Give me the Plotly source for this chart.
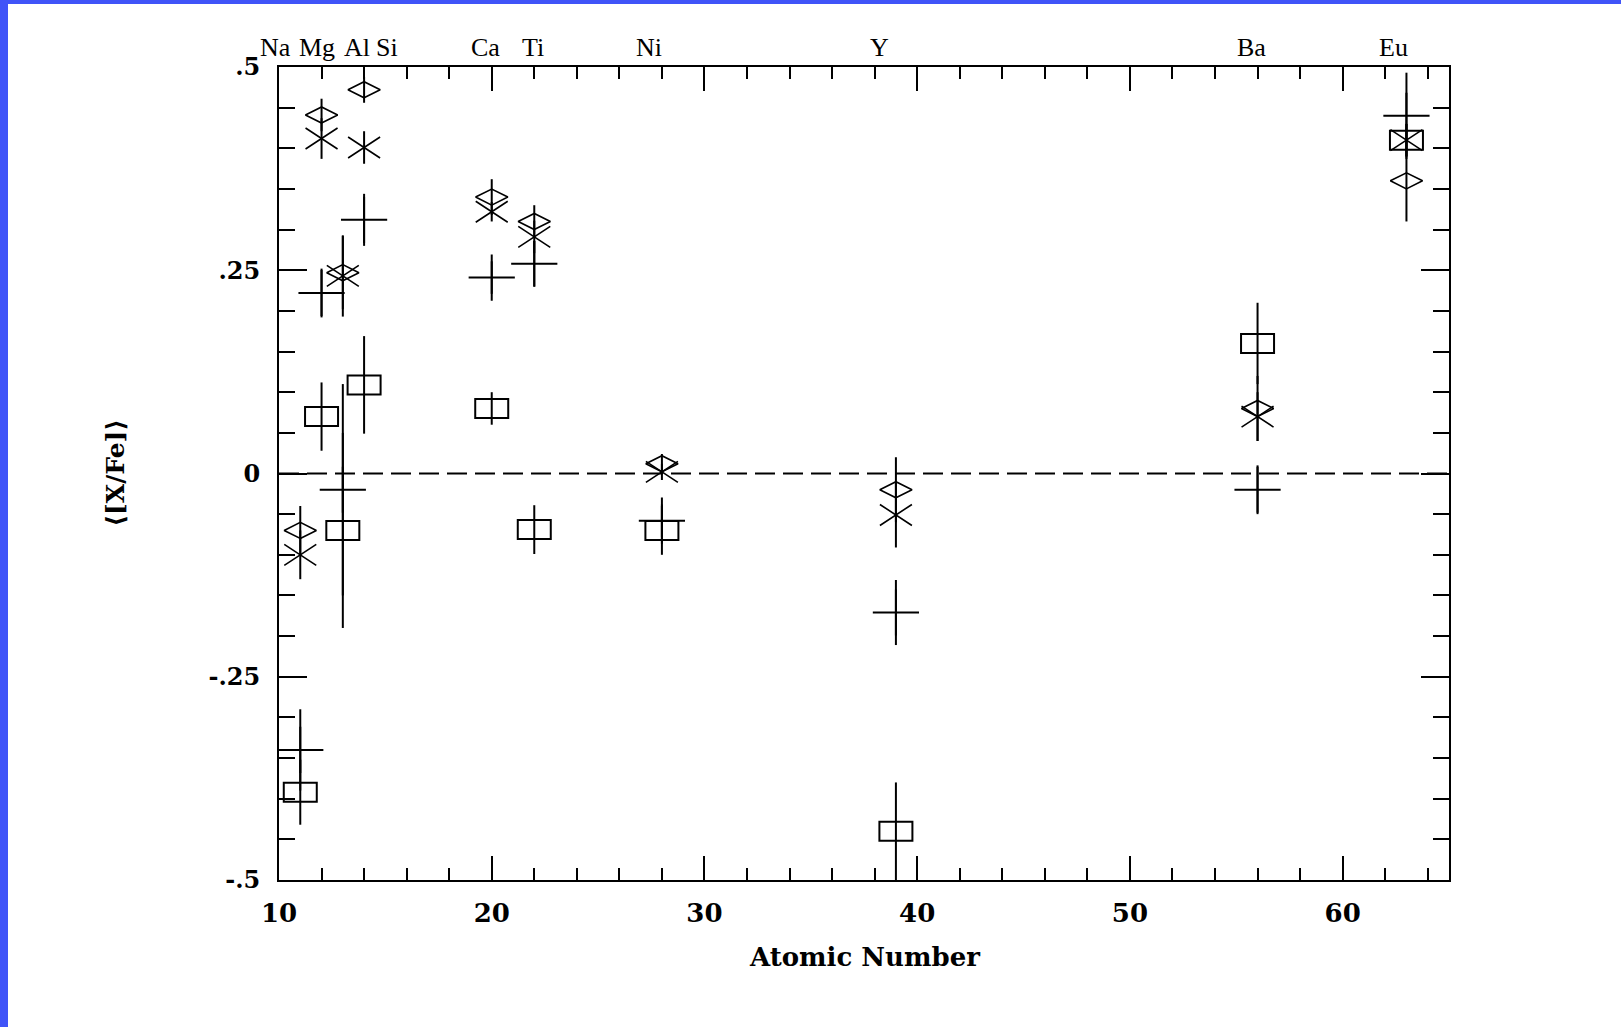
import plotly.graph_objects as go

# Elements and atomic numbers
elements = ["Na", "Mg", "Al", "Si", "Ca", "Ti", "Ni", "Y", "Ba", "Eu"]
atomic_number = [11, 12, 13, 14, 20, 22, 28, 39, 56, 63]

# <[X/Fe]> for four samples, with their uncertainties
diamond_val = [-0.070, 0.441, 0.247, 0.472, 0.340, 0.310, 0.012, -0.020, 0.080, 0.360]
diamond_err = [0.030, 0.020, 0.045, 0.016, 0.022, 0.020, 0.012, 0.040, 0.040, 0.050]

cross_val = [-0.100, 0.412, 0.243, 0.401, 0.322, 0.291, 0.002, -0.051, 0.070, 0.410]
cross_err = [0.030, 0.025, 0.050, 0.020, 0.012, 0.020, 0.010, 0.040, 0.030, 0.020]

plus_val = [-0.340, 0.222, -0.020, 0.312, 0.241, 0.258, -0.058, -0.171, -0.020, 0.440]
plus_err = [0.050, 0.030, 0.130, 0.032, 0.020, 0.028, 0.020, 0.040, 0.030, 0.053]

box_val = [-0.392, 0.070, -0.070, 0.109, 0.080, -0.069, -0.070, -0.440, 0.160, 0.410]
box_err = [0.040, 0.042, 0.120, 0.060, 0.020, 0.030, 0.030, 0.060, 0.050, 0.020]

# Axis ticks
x_tickvals = [10, 20, 30, 40, 50, 60]
y_tickvals = [-0.5, -0.25, 0, 0.25, 0.5]
y_ticktext = ["-.5", "-.25", "0", ".25", ".5"]

# Horizontal nudges (px) of the element names along the top edge
label_shift = [-25, -5, 14, 23, -6.5, -1, -12.5, -16, -6.5, -13]

W, H = 1621, 1027
ML, MR, MT, MB = 279, 172, 67, 147
PW, PH = W - ML - MR, H - MT - MB

BLACK = "black"
TICK_FONT = dict(family="DejaVu Serif", weight="bold", color=BLACK)


def err(arr):
    return dict(type="data", array=arr, visible=True, color=BLACK,
                thickness=2, width=0)


fig = go.Figure()

# open wide diamonds
fig.add_trace(go.Scatter(
    x=atomic_number, y=diamond_val, mode="markers",
    marker=dict(symbol="diamond-wide-open", size=23, color=BLACK,
                line=dict(width=1.6, color=BLACK)),
    error_y=err(diamond_err), hoverinfo="x+y"))

# crosses (symbol drawn as shapes below), error bars here
fig.add_trace(go.Scatter(
    x=atomic_number, y=cross_val, mode="markers",
    marker=dict(size=1, color="rgba(0,0,0,0)"),
    error_y=err(cross_err), hoverinfo="x+y"))

# plus signs
fig.add_trace(go.Scatter(
    x=atomic_number, y=plus_val, mode="markers",
    marker=dict(symbol="cross-thin-open", size=33, color=BLACK,
                line=dict(width=2, color=BLACK)),
    error_y=err(plus_err), hoverinfo="x+y"))

# rectangles (drawn as shapes below), error bars here
fig.add_trace(go.Scatter(
    x=atomic_number, y=box_val, mode="markers",
    marker=dict(size=1, color="rgba(0,0,0,0)"),
    error_y=err(box_err), hoverinfo="x+y"))

shapes = []
for z, v in zip(atomic_number, cross_val):
    shapes.append(dict(
        type="path", xref="x", yref="y",
        xsizemode="pixel", ysizemode="pixel", xanchor=z, yanchor=v,
        path="M-16,-10.5L16,10.5M-16,10.5L16,-10.5",
        line=dict(color=BLACK, width=1.6)))
for z, v in zip(atomic_number, box_val):
    shapes.append(dict(
        type="rect", xref="x", yref="y",
        xsizemode="pixel", ysizemode="pixel", xanchor=z, yanchor=v,
        x0=-16.5, x1=16.5, y0=-9.5, y1=9.5,
        line=dict(color=BLACK, width=2), fillcolor="rgba(0,0,0,0)"))

# dashed zero level
shapes.append(dict(type="line", xref="paper", yref="y", x0=0, x1=1, y0=0, y1=0,
                   line=dict(color=BLACK, width=2, dash="20px,8px")))

# blue frame strips along the left and top page edges
shapes.append(dict(type="rect", xref="paper", yref="paper",
                   x0=-ML / PW, x1=(8 - ML) / PW, y0=-MB / PH, y1=1 + MT / PH,
                   line=dict(width=0), fillcolor="#4054F8", layer="above"))
shapes.append(dict(type="rect", xref="paper", yref="paper",
                   x0=-ML / PW, x1=1 + MR / PW, y0=1 + (MT - 4) / PH, y1=1 + MT / PH,
                   line=dict(width=0), fillcolor="#4054F8", layer="above"))

annotations = []
for name, z, dx in zip(elements, atomic_number, label_shift):
    annotations.append(dict(
        text=name, x=z, xref="x", y=1, yref="paper", xshift=dx, yshift=20,
        xanchor="center", yanchor="middle", showarrow=False,
        font=dict(family="Liberation Serif", size=26, color=BLACK)))

annotations.append(dict(
    text="Atomic Number", x=0.5, xref="paper", y=0, yref="paper", yshift=-77,
    xanchor="center", yanchor="middle", showarrow=False,
    font=dict(family="DejaVu Serif", weight="bold", size=26, color=BLACK)))

annotations.append(dict(
    text="⟨[X/Fe]⟩", x=0, xref="paper", xshift=-164, y=0.5, yref="paper",
    xanchor="center", yanchor="middle", textangle=-90, showarrow=False,
    font=dict(family="DejaVu Serif", weight="bold", size=25, color=BLACK)))

axis_common = dict(
    showline=True, linecolor=BLACK, linewidth=2, mirror="allticks",
    ticks="inside", tickwidth=2, tickcolor=BLACK,
    showgrid=False, zeroline=False,
)

fig.update_layout(
    width=W, height=H,
    margin=dict(l=ML, r=MR, t=MT, b=MB, autoexpand=False),
    paper_bgcolor="white", plot_bgcolor="white",
    showlegend=False,
    shapes=shapes, annotations=annotations,
    xaxis=dict(
        range=[10, 65], tickmode="array", tickvals=x_tickvals,
        ticklen=24, ticklabelstandoff=9,
        tickfont=dict(size=26, **TICK_FONT),
        minor=dict(ticks="inside", ticklen=12, tickwidth=2, tickcolor=BLACK,
                   tick0=10, dtick=2, showgrid=False),
        **axis_common),
    yaxis=dict(
        range=[-0.5, 0.5], tickmode="array", tickvals=y_tickvals,
        ticktext=y_ticktext, ticklen=28, ticklabelstandoff=12,
        tickfont=dict(size=24, **TICK_FONT),
        minor=dict(ticks="inside", ticklen=16, tickwidth=2, tickcolor=BLACK,
                   tick0=0, dtick=0.05, showgrid=False),
        **axis_common),
)

fig.write_html("out.html")
